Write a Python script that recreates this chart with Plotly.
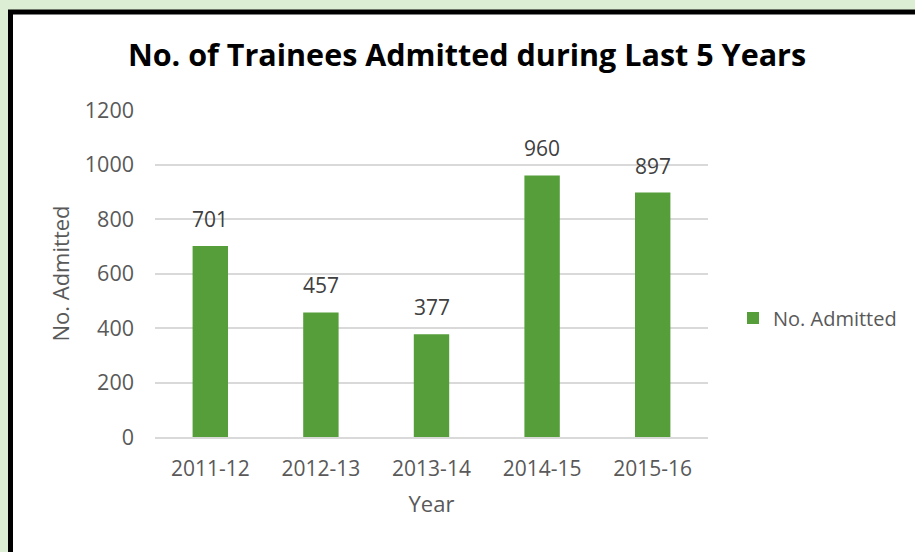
import plotly.graph_objects as go

years = ["2011-12", "2012-13", "2013-14", "2014-15", "2015-16"]
admitted = [701, 457, 377, 960, 897]
series_name = "No. Admitted"
title_text = "No. of Trainees Admitted during Last 5 Years"

W, H = 915, 552
L, R, T, B = 155, 708, 110, 437
pw, ph = R - L, B - T

def px_x(p):
    return (p - L) / pw

def px_y(p):
    return (B - p) / ph

FONT = "Open Sans"
GRAY = "#595959"
GREEN = "#559E3A"

fig = go.Figure()
fig.add_trace(go.Bar(
    x=years, y=admitted, name=series_name,
    marker=dict(color=GREEN, line=dict(width=0)),
    width=0.32, showlegend=True,
))

for xv, yv in zip(years, admitted):
    fig.add_annotation(x=xv, y=yv, text=str(yv), showarrow=False,
                       yanchor="bottom", yshift=11,
                       font=dict(family=FONT, size=21, color="#404040"))

fig.add_shape(type="rect", xref="paper", yref="paper",
              x0=px_x(10.5), x1=px_x(1100), y0=px_y(900), y1=px_y(12),
              fillcolor="white", line=dict(color="black", width=5), layer="below")

fig.update_layout(
    width=W, height=H,
    margin=dict(l=L, r=W - R, t=T, b=H - B, pad=0, autoexpand=False),
    paper_bgcolor="#DCEFD4",
    plot_bgcolor="rgba(0,0,0,0)",
    title=dict(text="<b>" + title_text + "</b>", x=px_x(467), xanchor="center",
               xref="paper", y=1 - 55 / H, yanchor="middle",
               font=dict(family=FONT, size=30.5, color="black")),
    font=dict(family=FONT, color=GRAY),
    legend=dict(x=px_x(733), xanchor="left", y=px_y(318), yanchor="middle",
                font=dict(family=FONT, size=20, color=GRAY),
                bgcolor="rgba(0,0,0,0)", itemwidth=30),
    xaxis=dict(type="category", showgrid=False, showline=True, linecolor="#D9D9D9", linewidth=1.5,
               tickfont=dict(family=FONT, size=21, color=GRAY), ticks="", tickangle=0,
               ticklabelstandoff=12, automargin=False,
               title=dict(text="Year", font=dict(family=FONT, size=22, color=GRAY), standoff=16)),
    yaxis=dict(range=[0, 1200], dtick=200, showgrid=True, gridcolor="#D9D9D9", gridwidth=1.5,
               zeroline=False, showline=False, ticks="", automargin=False,
               tickfont=dict(family=FONT, size=21.5, color=GRAY), ticklabelstandoff=20,
               title=dict(text="No. Admitted", font=dict(family=FONT, size=22, color=GRAY), standoff=9)),
)

fig.write_html("out.html", config={"displayModeBar": False},
               post_script="document.body.style.margin='0';document.body.style.overflow='hidden';")
